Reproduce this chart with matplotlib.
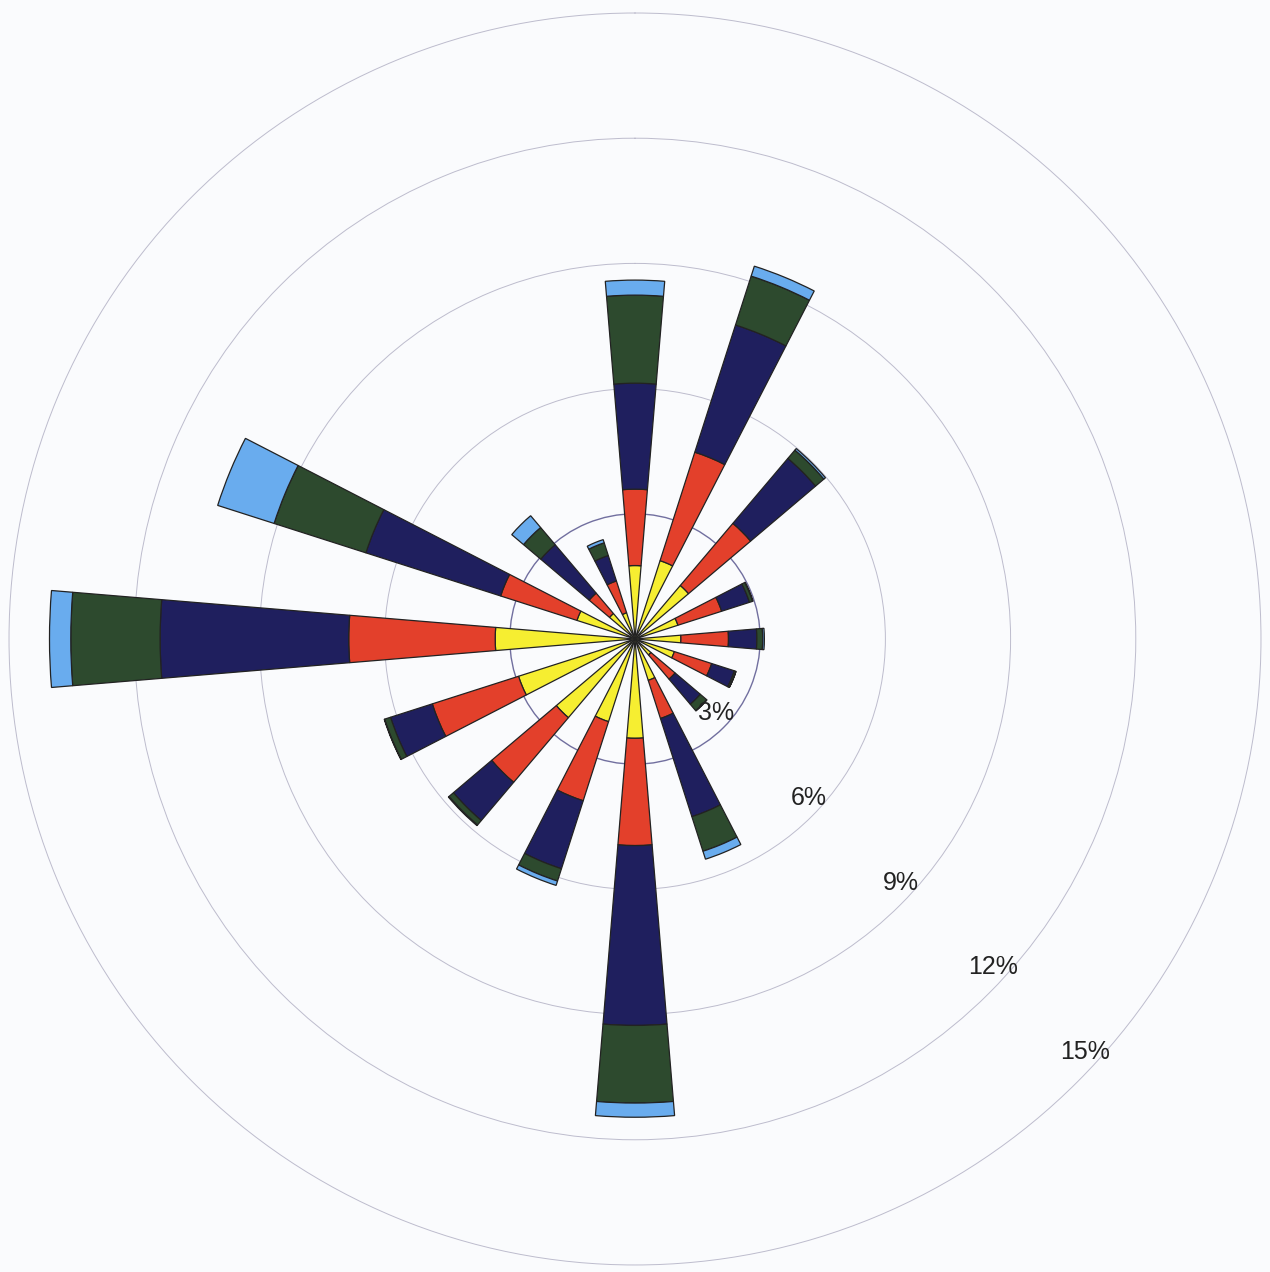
import numpy as np
import matplotlib
matplotlib.use("Agg")
import matplotlib.pyplot as plt

# 16 compass sectors, clockwise from north
directions = ["N", "NNE", "NE", "ENE", "E", "ESE", "SE", "SSE",
              "S", "SSW", "SW", "WSW", "W", "WNW", "NW", "NNW"]

# frequency (%) of each speed class per sector, innermost class first
class1 = [1.76, 1.97, 1.68, 1.08, 1.10, 0.99, 0.50, 1.04,
          2.38, 2.08, 2.47, 2.93, 3.35, 1.46, 0.80, 0.66]
class2 = [1.83, 2.73, 1.95, 1.10, 1.14, 0.94, 0.76, 0.96,
          2.57, 1.99, 2.03, 2.17, 3.51, 1.92, 0.64, 0.80]
class3 = [2.54, 3.20, 2.04, 0.70, 0.68, 0.57, 0.79, 2.47,
          4.31, 1.71, 1.20, 1.05, 4.52, 3.39, 1.52, 0.64]
class4 = [2.11, 1.23, 0.26, 0.08, 0.14, 0.04, 0.20, 0.87,
          1.86, 0.31, 0.14, 0.15, 2.14, 2.31, 0.54, 0.32]
class5 = [0.36, 0.25, 0.05, 0.01, 0.04, 0.00, 0.01, 0.20,
          0.34, 0.11, 0.02, 0.01, 0.51, 1.42, 0.37, 0.08]

ring_values = [3, 6, 9, 12, 15]

classes = [class1, class2, class3, class4, class5]
colors = ["#f6ee31", "#e3402b", "#1f1f5e", "#2d4a2e", "#69acee"]

bg = "#fafbfd"
fig = plt.figure(figsize=(12.70, 12.72), dpi=100, facecolor=bg)
ax = fig.add_axes([0.0071, 0.0055, 0.9858, 0.9843], projection="polar")
ax.set_facecolor(bg)
ax.set_theta_zero_location("N")
ax.set_theta_direction(-1)

theta = np.radians(np.arange(len(directions)) * 22.5)
width = np.radians(9.5)

bottom = np.zeros(len(directions))
for vals, col in zip(classes, colors):
    vals = np.array(vals)
    ax.bar(theta, vals, width=width, bottom=bottom, color=col,
           edgecolor="#222222", linewidth=0.9, zorder=3)
    bottom += vals

ax.set_ylim(0, 15)
ax.set_xticks([])
ax.set_rgrids(ring_values[:-1], labels=[""] * (len(ring_values) - 1))
ax.tick_params(length=0)
gl = ax.yaxis.get_gridlines()
for i, line in enumerate(gl):
    line.set_linestyle("-")
    if i == 0:
        line.set_color("#716f9f")
        line.set_linewidth(1.0)
    else:
        line.set_color("#bdbccd")
        line.set_linewidth(0.7)
ax.spines["polar"].set_color("#bdbccd")
ax.spines["polar"].set_linewidth(0.7)

# ring labels along the south-east diagonal
for r in ring_values:
    ax.text(np.radians(132.5), r - 0.36, f"{r}%", ha="center", va="center",
            fontsize=18, family="Liberation Sans", color="#222222", zorder=4)

fig.savefig("out.png", dpi=100, facecolor=bg)
